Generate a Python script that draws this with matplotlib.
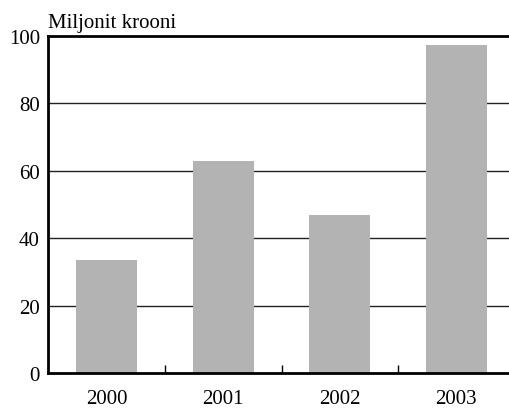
import matplotlib.pyplot as plt
import numpy as np

# Andmed
aastad = ['2000', '2001', '2002', '2003']
vaartused = [33.6, 63.0, 47.0, 97.3]
y_ticks = [0, 20, 40, 60, 80, 100]

plt.rcParams['font.family'] = ['Liberation Serif', 'DejaVu Serif']

fig = plt.figure(figsize=(5.09, 4.10), dpi=100)
ax = fig.add_axes([0.0949, 0.0866, 0.9163, 0.8232])

x = np.arange(len(aastad))
ax.bar(x, vaartused, width=0.52, color='#b3b3b3', zorder=2)

ax.set_xlim(-0.5, len(aastad) - 0.5)
ax.set_ylim(0, 100)

# horisontaalsed abijooned
for v in y_ticks[1:-1]:
    ax.axhline(v, color='#222222', linewidth=1.0, zorder=1)

ax.set_yticks(y_ticks)
ax.set_xticks(x)
ax.set_xticklabels(aastad)
ax.set_xticks(x[:-1] + 0.5, minor=True)

ax.tick_params(axis='y', length=0, pad=6, labelsize=15)
ax.tick_params(axis='x', which='major', length=0, pad=11, labelsize=15)
ax.tick_params(axis='x', which='minor', direction='in', length=6, width=1, color='black')

ax.spines['right'].set_visible(False)
for s in ['left', 'bottom', 'top']:
    ax.spines[s].set_linewidth(2)
    ax.spines[s].set_color('black')

fig.text(48 / 509, 1 - 28 / 410, 'Miljonit krooni', fontsize=15, ha='left', va='baseline')

fig.savefig('out.png', dpi=100)
